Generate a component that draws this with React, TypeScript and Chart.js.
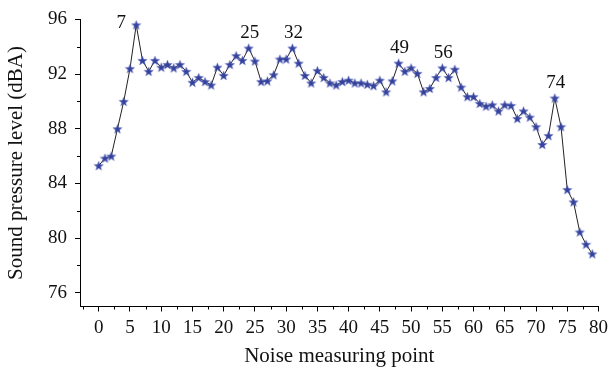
import React, { useEffect, useRef } from 'react';
import { Chart, registerables } from 'chart.js';

Chart.register(...registerables);

// Sound pressure level (dBA) at each noise measuring point (index 0..79)
const soundLevels: number[] = [
  85.3, 85.85, 86.0, 88.0, 90.0, 92.4, 95.6, 93.0, 92.2, 93.0,
  92.5, 92.7, 92.45, 92.7, 92.2, 91.4, 91.75, 91.45, 91.2, 92.5,
  91.9, 92.7, 93.35, 93.0, 93.9, 92.95, 91.45, 91.5, 91.95, 93.1,
  93.1, 93.9, 92.8, 91.9, 91.35, 92.25, 91.75, 91.35, 91.2, 91.45,
  91.55, 91.35, 91.35, 91.25, 91.15, 91.55, 90.7, 91.5, 92.8, 92.2,
  92.45, 92.05, 90.7, 90.95, 91.75, 92.45, 91.75, 92.35, 91.05, 90.35,
  90.35, 89.85, 89.65, 89.75, 89.3, 89.75, 89.7, 88.75, 89.3, 88.85,
  88.15, 86.85, 87.5, 90.25, 88.15, 83.55, 82.65, 80.45, 79.55, 78.85,
];

const xTickValues: number[] = [0, 5, 10, 15, 20, 25, 30, 35, 40, 45, 50, 55, 60, 65, 70, 75, 80];
const xMinorTickValues: number[] = [-2.5, 2.5, 7.5, 12.5, 17.5, 22.5, 27.5, 32.5, 37.5, 42.5, 47.5, 52.5, 57.5, 62.5, 67.5, 72.5, 77.5];
const yTickValues: number[] = [76, 80, 84, 88, 92, 96];
const yMinorTickValues: number[] = [78, 82, 86, 90, 94];
// Peak labels (1-based measuring point numbers)
const peakLabels: number[] = [7, 25, 32, 49, 56, 74];

const FONT = "'Liberation Serif', 'Times New Roman', serif";

function makeStar(): HTMLCanvasElement {
  const c = document.createElement('canvas');
  c.width = 11;
  c.height = 11;
  const g = c.getContext('2d')!;
  g.beginPath();
  for (let k = 0; k < 10; k++) {
    const r = k % 2 === 0 ? 5 : 2.1;
    const a = -Math.PI / 2 + (k * Math.PI) / 5;
    const px = 5.5 + r * Math.cos(a);
    const py = 6 + r * Math.sin(a);
    if (k === 0) g.moveTo(px, py);
    else g.lineTo(px, py);
  }
  g.closePath();
  g.fillStyle = '#35439e';
  g.fill();
  g.strokeStyle = 'rgba(100,110,195,0.6)';
  g.lineWidth = 0.5;
  g.stroke();
  return c;
}

const minorTicksPlugin = {
  id: 'minorTicks',
  afterDraw(chart: any) {
    const { ctx, chartArea, scales } = chart;
    ctx.save();
    ctx.strokeStyle = '#000';
    ctx.lineWidth = 1;
    ctx.beginPath();
    xMinorTickValues.forEach((v) => {
      const px = Math.round(scales.x.getPixelForValue(v)) + 0.5;
      ctx.moveTo(px, chartArea.bottom);
      ctx.lineTo(px, chartArea.bottom + 3);
    });
    yMinorTickValues.forEach((v) => {
      const py = Math.round(scales.y.getPixelForValue(v)) + 0.5;
      ctx.moveTo(chartArea.left - 3, py);
      ctx.lineTo(chartArea.left, py);
    });
    ctx.stroke();
    ctx.restore();
  },
};

const peakLabelPlugin = {
  id: 'peakLabels',
  afterDatasetsDraw(chart: any) {
    const { ctx } = chart;
    const meta = chart.getDatasetMeta(0);
    ctx.save();
    ctx.fillStyle = '#111';
    ctx.font = `19px ${FONT}`;
    ctx.textAlign = 'center';
    ctx.textBaseline = 'middle';
    peakLabels.forEach((n) => {
      const el = meta.data[n - 1];
      if (!el) return;
      let dx = 1;
      let dy = -15;
      if (n === 7) {
        dx = -15;
        dy = -2;
      }
      ctx.fillText(String(n), el.x + dx, el.y + dy);
    });
    ctx.restore();
  },
};

export default function App() {
  const canvasRef = useRef<HTMLCanvasElement | null>(null);

  useEffect(() => {
    document.body.style.margin = '0';
    const canvas = canvasRef.current;
    if (!canvas) return;
    const star = makeStar();
    const chart = new Chart(canvas, {
      type: 'line',
      data: {
        datasets: [
          {
            data: soundLevels.map((v, i) => ({ x: i, y: v })),
            borderColor: '#222',
            borderWidth: 1,
            pointStyle: star as any,
            pointRadius: 5,
            pointHoverRadius: 5,
            tension: 0,
            fill: false,
          },
        ],
      },
      options: {
        animation: false,
        responsive: false,
        maintainAspectRatio: false,
        devicePixelRatio: 1,
        layout: { padding: { top: 13.5, right: 9.7, left: 0, bottom: 0 } },
        plugins: {
          legend: { display: false },
          tooltip: { enabled: false },
        },
        scales: {
          x: {
            type: 'linear',
            min: -3,
            max: 80,
            afterFit: (scale: any) => {
              scale.height = 70.5;
            },
            afterBuildTicks: (scale: any) => {
              scale.ticks = xTickValues.map((v) => ({ value: v }));
            },
            ticks: {
              autoSkip: false,
              maxRotation: 0,
              color: '#111',
              padding: 5,
              font: { family: FONT, size: 19 },
            },
            grid: {
              display: true,
              drawOnChartArea: false,
              drawTicks: true,
              tickLength: 5,
              tickColor: '#000',
              tickWidth: 1,
            },
            border: { display: true, color: '#000', width: 1 },
            title: {
              display: true,
              text: 'Noise measuring point',
              color: '#111',
              font: { family: FONT, size: 21 },
              padding: { top: 0, bottom: 7.5 },
            },
          },
          y: {
            type: 'linear',
            min: 75,
            max: 96,
            afterFit: (scale: any) => {
              scale.width = 80;
            },
            afterBuildTicks: (scale: any) => {
              scale.ticks = yTickValues.map((v) => ({ value: v }));
            },
            ticks: {
              color: '#111',
              padding: 8,
              font: { family: FONT, size: 19 },
            },
            grid: {
              display: true,
              drawOnChartArea: false,
              drawTicks: true,
              tickLength: 5,
              tickColor: '#000',
              tickWidth: 1,
            },
            border: { display: true, color: '#000', width: 1 },
            title: {
              display: true,
              text: 'Sound pressure level (dBA)',
              color: '#111',
              font: { family: FONT, size: 21 },
              padding: { top: 3.4, bottom: 0 },
            },
          },
        },
      },
      plugins: [minorTicksPlugin, peakLabelPlugin],
    });
    return () => chart.destroy();
  }, []);

  return (
    <div style={{ width: 613, height: 377 }}>
      <canvas ref={canvasRef} width={613} height={377} style={{ display: 'block', width: 613, height: 377 }} />
    </div>
  );
}
